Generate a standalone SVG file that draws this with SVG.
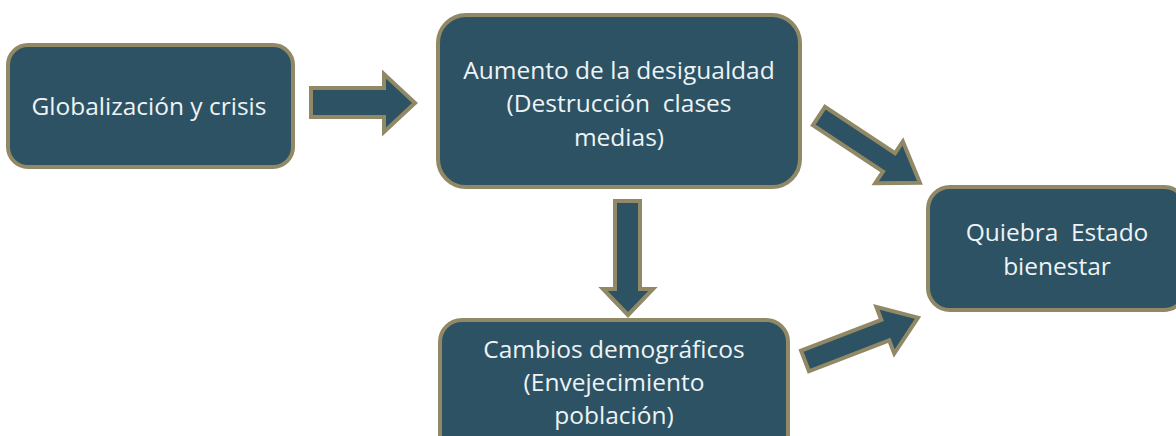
<svg xmlns="http://www.w3.org/2000/svg" width="1176" height="436" viewBox="0 0 1176 436">
<style>
.box{fill:#2c5263;stroke:#918865;stroke-width:4}
.arr{fill:#2c5263;stroke:#918865;stroke-width:4;stroke-linejoin:miter}
.t{font-family:"Open Sans","Liberation Sans",sans-serif;font-size:24.5px;fill:#eef3f6;text-anchor:middle}
</style>
<rect width="1176" height="436" fill="#ffffff"/>
<g id="connectors">
<path class="arr" d="M311,88 L384,88 L384,74 L415,103 L384,132 L384,117 L311,117 Z"/>
<path class="arr" d="M615,201 L640,201 L640,289 L653,289 L628,315 L603,289 L615,289 Z"/>
<g transform="translate(819,116) rotate(33.5)">
<path class="arr" d="M0,-11 L84,-11 L84,-25 L121,0 L84,25 L84,11 L0,11 Z"/>
</g>
<g transform="translate(805,361) rotate(-21)">
<path class="arr" d="M0,-11 L86,-11 L86,-25 L121,0 L86,25 L86,11 L0,11 Z"/>
</g>
</g>
<g id="node-globalizacion">
<rect class="box" x="8" y="45" width="285" height="122" rx="20"/>
<text class="t" x="149" y="115">Globalización y crisis</text>
</g>
<g id="node-desigualdad">
<rect class="box" x="438" y="15" width="362" height="172" rx="28"/>
<text class="t" x="619" y="79">Aumento de la desigualdad</text>
<text class="t" x="619" y="112" xml:space="preserve">(Destrucción  clases</text>
<text class="t" x="619" y="146">medias)</text>
</g>
<g id="node-demograficos">
<rect class="box" x="440" y="320" width="348" height="140" rx="22"/>
<text class="t" x="614" y="358">Cambios demográficos</text>
<text class="t" x="614" y="391">(Envejecimiento</text>
<text class="t" x="614" y="424">población)</text>
</g>
<g id="node-quiebra">
<rect class="box" x="928" y="187" width="258" height="123" rx="22"/>
<text class="t" x="1057" y="241" xml:space="preserve">Quiebra  Estado</text>
<text class="t" x="1057" y="275">bienestar</text>
</g>
</svg>
